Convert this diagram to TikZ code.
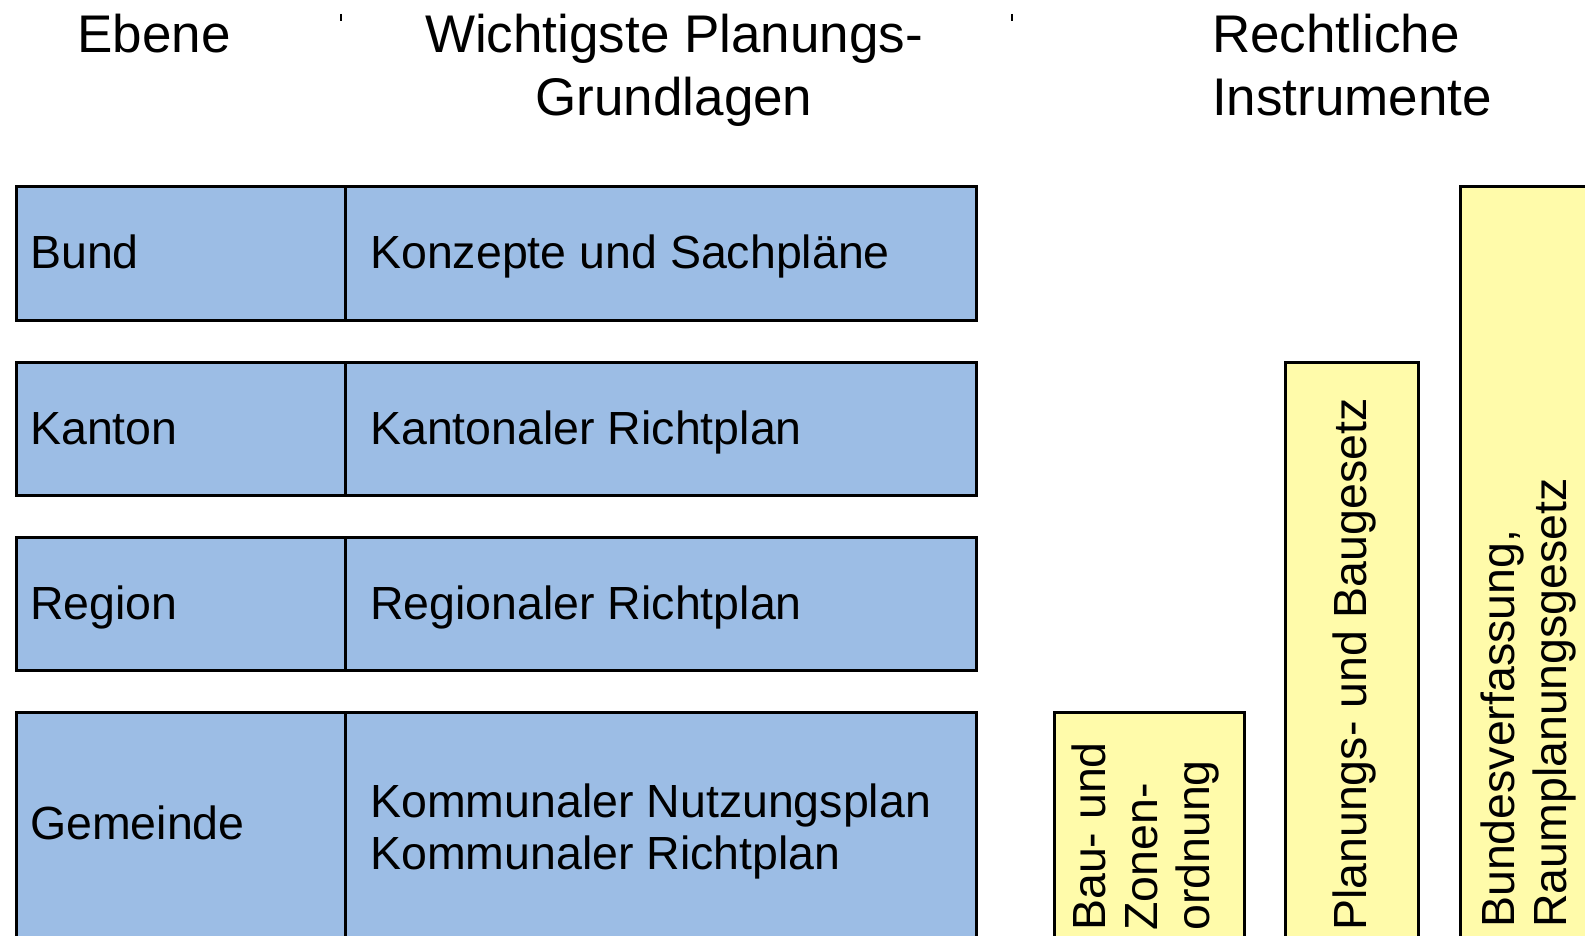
\documentclass[tikz,border=0pt]{standalone}
\usepackage{fontspec}
\setmainfont{Liberation Sans}
\usepackage{tikz}
\definecolor{ebeneblau}{RGB}{156,189,229}
\definecolor{gesetzgelb}{RGB}{255,251,170}

\tikzset{
  cell/.style={draw, line width=3pt, fill=ebeneblau, anchor=north west, inner sep=0pt, outer sep=0pt},
  law/.style={draw, line width=3pt, fill=gesetzgelb, anchor=north west, inner sep=0pt, outer sep=0pt},
  head/.style={font=\fontsize{53}{63}\selectfont, inner sep=0pt},
  txt/.style={font=\fontsize{46.5}{52}\selectfont, inner sep=0pt, anchor=base west, align=left},
  vtxt/.style={txt, rotate=90},
}

\begin{document}
\begin{tikzpicture}[x=1pt, y=-1pt]
            \useasboundingbox (0,0) rectangle (1585,936);

            %Column heads (base = last line).
            \node (ebene) at (154, 53) [head, anchor=base] {Ebene};
            \node (grundlagen) at (674, 116) [head, anchor=base, align=center] {Wichtigste Planungs-\\Grundlagen};
            \node (instrumente) at (1212, 116) [head, anchor=base west, align=left] {Rechtliche\\Instrumente};
            \draw[line width=1.5pt] (341, 14) -- (341, 21);
            \draw[line width=1.5pt] (1012, 14) -- (1012, 21);

            %Levels and their planning bases.
            \node (bund) at (16, 187) [cell, minimum width=329pt, minimum height=133pt] {};
            \node (bundplan) at (345, 187) [cell, minimum width=631pt, minimum height=133pt] {};
            \node (kanton) at (16, 362) [cell, minimum width=329pt, minimum height=133pt] {};
            \node (kantonplan) at (345, 362) [cell, minimum width=631pt, minimum height=133pt] {};
            \node (region) at (16, 537) [cell, minimum width=329pt, minimum height=133pt] {};
            \node (regionplan) at (345, 537) [cell, minimum width=631pt, minimum height=133pt] {};
            \node (gemeinde) at (16, 712) [cell, minimum width=329pt, minimum height=300pt] {};
            \node (gemeindeplan) at (345, 712) [cell, minimum width=631pt, minimum height=300pt] {};

            \node (bundtxt) at (30, 269) [txt] {Bund};
            \node (bundplantxt) at (370, 269) [txt] {Konzepte und Sachpläne};
            \node (kantontxt) at (30, 444) [txt] {Kanton};
            \node (kantonplantxt) at (370, 444) [txt] {Kantonaler Richtplan};
            \node (regiontxt) at (30, 619) [txt] {Region};
            \node (regionplantxt) at (370, 619) [txt] {Regionaler Richtplan};
            \node (gemeindetxt) at (30, 839) [txt] {Gemeinde};
            \node (gemeindeplantxt) at (370, 869) [txt] {Kommunaler Nutzungsplan\\Kommunaler Richtplan};

            %Legal instruments.
            \node (bzo) at (1054, 712) [law, minimum width=190pt, minimum height=300pt] {};
            \node (pbg) at (1285, 362) [law, minimum width=133pt, minimum height=650pt] {};
            \node (rpg) at (1460, 187) [law, minimum width=200pt, minimum height=850pt] {};

            \node (bzotxt) at (1209, 931) [vtxt] {Bau- und\\Zonen-\\ordnung};
            \node (pbgtxt) at (1366, 931) [vtxt] {Planungs- und Baugesetz};
            \node (rpgtxt) at (1566, 928) [vtxt] {Bundesverfassung,\\Raumplanungsgesetz};
\end{tikzpicture}
\end{document}
